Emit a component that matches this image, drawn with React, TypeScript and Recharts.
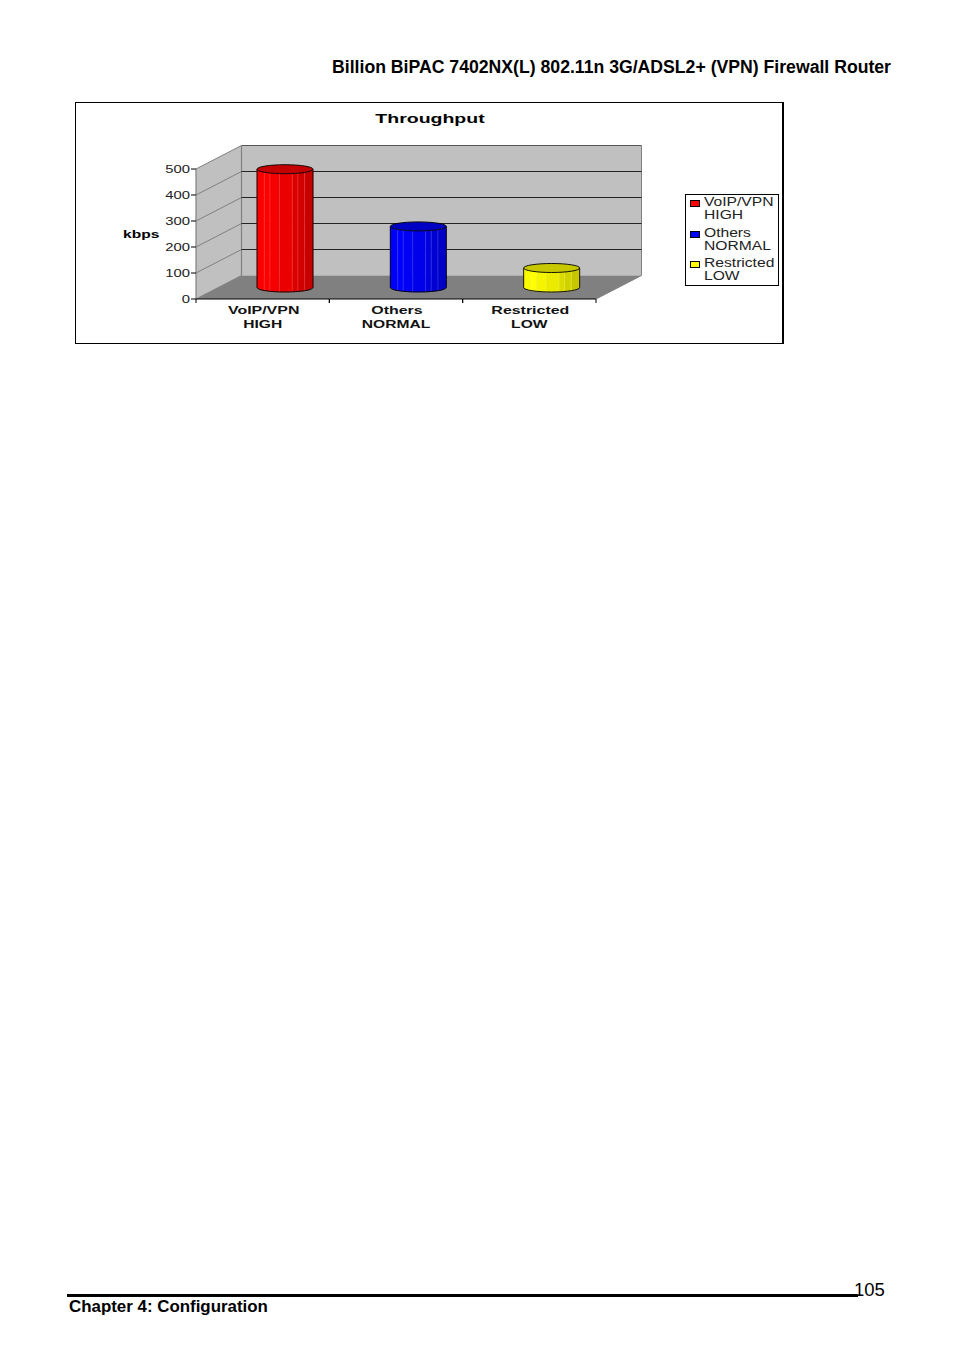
import React from 'react';
import { BarChart, Bar, XAxis, YAxis, CartesianGrid } from 'recharts';

const categories = ['VoIP/VPN', 'Others', 'Restricted'];
const priorities = ['HIGH', 'NORMAL', 'LOW'];
const throughput = [455, 235, 75];
const yTicks = [0, 100, 200, 300, 400, 500];
const bodyColors = ['#ff0000', '#0000ff', '#ffff00'];
const topColors = ['#c40000', '#0000c4', '#c8c800'];
const chartTitle = 'Throughput';
const axisTitle = 'kbps';
const headerText = 'Billion BiPAC 7402NX(L) 802.11n 3G/ADSL2+ (VPN) Firewall Router';
const footerText = 'Chapter 4: Configuration';
const pageNumber = '105';

const data = categories.map((name, i) => ({ name, priority: priorities[i], value: throughput[i] }));

const FONT = '"Liberation Sans", Arial, sans-serif';
const W = 707, H = 240;
const M = { left: 120, right: 187, top: 66, bottom: 44 };
const PX0 = M.left, PX1 = W - M.right, PY0 = M.top, PY1 = H - M.bottom;
const DX = 45.5, DY = -23.5;

const Walls = () => (
  <svg width={W} height={H} style={{ position: 'absolute', left: 0, top: 0 }}>
    <polygon points={`${PX0 + DX},${PY0 + DY} ${PX1 + DX},${PY0 + DY} ${PX1 + DX},${PY1 + DY} ${PX0 + DX},${PY1 + DY}`} fill="#c0c0c0" />
    <polygon points={`${PX0},${PY0} ${PX0 + DX},${PY0 + DY} ${PX0 + DX},${PY1 + DY} ${PX0},${PY1}`} fill="#c0c0c0" />
    <polygon points={`${PX0},${PY1} ${PX0 + DX},${PY1 + DY} ${PX1 + DX},${PY1 + DY} ${PX1},${PY1}`} fill="#808080" />
    <line x1={PX0 + DX} y1={PY0 + DY} x2={PX1 + DX} y2={PY0 + DY} stroke="#555" strokeWidth={1.2} />
    <line x1={PX0 + DX} y1={PY0 + DY} x2={PX0 + DX} y2={PY1 + DY} stroke="#808080" strokeWidth={1.2} />
    <line x1={PX1 + DX} y1={PY0 + DY} x2={PX1 + DX} y2={PY1 + DY} stroke="#808080" />
    <line x1={PX0} y1={PY0} x2={PX0} y2={PY1} stroke="#808080" strokeWidth={1.2} />
    <line x1={PX1} y1={PY1} x2={PX1 + DX} y2={PY1 + DY} stroke="#808080" />
    <text x={0} y={0} transform={`translate(47,${PY1 - 61}) scale(1.42,1)`} fontFamily={FONT} fontWeight="bold" fontSize={11} fill="#000">{axisTitle}</text>
    <text x={0} y={0} textAnchor="middle" transform={`translate(354,20) scale(1.5,1)`} fontFamily={FONT} fontWeight="bold" fontSize={13} fill="#000">{chartTitle}</text>
  </svg>
);

const gridLine = (p: any) => {
  const y = p.y1;
  return (
    <g key={p.key ?? y}>
      <line x1={PX0} y1={y} x2={PX0 + DX} y2={y + DY} stroke="#808080" />
      {y < PY1 - 1 && y > PY0 + 1 ? <line x1={PX0 + DX} y1={y + DY} x2={PX1 + DX} y2={y + DY} stroke="#111" strokeWidth={0.9} /> : null}
    </g>
  );
};

const XTick = (p: any) => {
  const i = p.index;
  const half = (PX1 - PX0) / categories.length / 2;
  return (
    <g>
      <line x1={p.x - half} y1={PY1} x2={p.x - half} y2={PY1 + 4} stroke="#000" />
      <line x1={p.x + half} y1={PY1} x2={p.x + half} y2={PY1 + 4} stroke="#000" />
      <text textAnchor="middle" transform={`translate(${p.x + 1},${PY1 + 15}) scale(1.45,1)`} fontFamily={FONT} fontWeight="bold" fontSize={11} fill="#111">{categories[i]}</text>
      <text textAnchor="middle" transform={`translate(${p.x},${PY1 + 29}) scale(1.42,1)`} fontFamily={FONT} fontWeight="bold" fontSize={11} fill="#111">{priorities[i]}</text>
    </g>
  );
};

const YTick = (p: any) => (
  <text textAnchor="end" transform={`translate(${PX0 - 6},${p.y + 4}) scale(1.35,1)`} fontFamily={FONT} fontSize={11} fill="#222">{p.payload.value}</text>
);

const facets: [number, number, number][] = [
  [0, 0.13, 0.98], [0.13, 0.23, 1], [0.23, 0.4, 0.96], [0.4, 0.63, 0.92], [0.63, 0.73, 0.86], [0.73, 0.85, 0.82], [0.85, 1, 0.78],
];

const shade = (hex: string, k: number) => {
  const n = parseInt(hex.slice(1), 16);
  const c = [(n >> 16) & 255, (n >> 8) & 255, n & 255].map((v) => Math.round(v * k));
  return `rgb(${c.join(',')})`;
};
const tint = (hex: string, k: number) => {
  const n = parseInt(hex.slice(1), 16);
  const c = [(n >> 16) & 255, (n >> 8) & 255, n & 255].map((v) => Math.round(v + (255 - v) * k));
  return `rgb(${c.join(',')})`;
};

const Cylinder = (p: any) => {
  const i = p.index;
  const rx = p.width / 2;
  const ry = 4.5;
  const cx = p.x + rx + 22;
  const top = p.y - 11.5;
  const bottom = p.y + p.height - 11.5;
  const arc = (x: number) => ry * Math.sqrt(Math.max(0, 1 - ((x - cx) / rx) ** 2));
  const color = bodyColors[i];
  return (
    <g>
      {facets.map(([a, b, k], j) => {
        const x0 = cx - rx + a * 2 * rx;
        const x1 = cx - rx + b * 2 * rx;
        const mid = (x0 + x1) / 2;
        return (
          <g key={j}>
            <path
              d={`M${x0},${top + arc(x0)} Q${mid},${top + 2 * arc(mid) - (arc(x0) + arc(x1)) / 2} ${x1},${top + arc(x1)} L${x1},${bottom + arc(x1)} Q${mid},${bottom + 2 * arc(mid) - (arc(x0) + arc(x1)) / 2} ${x0},${bottom + arc(x0)} Z`}
              fill={shade(color, k)}
              stroke={shade(color, k)}
              strokeWidth={0.3}
            />
            {j > 0 ? <line x1={x0} y1={top + arc(x0)} x2={x0} y2={bottom + arc(x0)} stroke={tint(color, 0.3)} strokeWidth={0.5} /> : null}
          </g>
        );
      })}
      <path d={`M${cx - rx},${top} L${cx - rx},${bottom} A${rx},${ry} 0 0 0 ${cx + rx},${bottom} L${cx + rx},${top}`} fill="none" stroke="#000" strokeWidth={0.9} />
      <ellipse cx={cx} cy={top} rx={rx} ry={ry} fill={topColors[i]} stroke="#000" strokeWidth={0.9} />
    </g>
  );
};

const LegendBox = () => (
  <div style={{ position: 'absolute', left: 609, top: 91, width: 92, height: 90, border: '1px solid #000', background: '#fff', fontFamily: FONT, fontSize: 12.5, color: '#222', lineHeight: '13px' }}>
    {categories.map((c, i) => (
      <div key={c} style={{ position: 'absolute', left: 0, top: 1 + [0, 31, 61][i] }}>
        <span style={{ position: 'absolute', left: 4, top: 4, width: 8, height: 5, background: bodyColors[i], border: '1px solid #000' }} />
        <div style={{ position: 'absolute', left: 18, top: 0, transform: 'scaleX(1.25)', transformOrigin: 'left top', whiteSpace: 'nowrap' }}>{c}</div>
        <div style={{ position: 'absolute', left: 18, top: 13, transform: 'scaleX(1.25)', transformOrigin: 'left top', whiteSpace: 'nowrap' }}>{priorities[i]}</div>
      </div>
    ))}
  </div>
);

export default function App() {
  return (
    <div style={{ position: 'absolute', left: 0, top: 0, width: 954, height: 1351, overflow: 'hidden', background: '#fff', fontFamily: FONT }}>
      <div style={{ position: 'absolute', right: 63, top: 57, fontSize: 17.65, fontWeight: 'bold', whiteSpace: 'nowrap', color: '#000', lineHeight: '20px' }}>{headerText}</div>
      <div style={{ position: 'absolute', left: 75, top: 102, width: W - 1, height: H, border: '1px solid #000', borderRightWidth: 2 }}>
        <Walls />
        <BarChart width={W} height={H} data={data} margin={{ left: 0, right: M.right, top: M.top, bottom: 0 }} barCategoryGap={0}>
          <CartesianGrid vertical={false} horizontal={gridLine} syncWithTicks />
          <XAxis dataKey="name" height={M.bottom} interval={0} tick={XTick} axisLine={{ stroke: '#000' }} tickLine={false} />
          <YAxis type="number" domain={[0, 500]} ticks={yTicks} width={M.left} tick={YTick} axisLine={false} tickLine={{ stroke: '#000' }} tickSize={5} />
          <Bar dataKey="value" barSize={56} shape={Cylinder} isAnimationActive={false} />
        </BarChart>
        <LegendBox />
      </div>
      <div style={{ position: 'absolute', left: 67, top: 1294, width: 791, height: 3, background: '#000' }} />
      <div style={{ position: 'absolute', left: 69, top: 1297, fontSize: 16.9, fontWeight: 'bold', whiteSpace: 'nowrap', lineHeight: '20px', color: '#000' }}>{footerText}</div>
      <div style={{ position: 'absolute', left: 854, top: 1279, fontSize: 18.5, whiteSpace: 'nowrap', lineHeight: '21px', color: '#000' }}>{pageNumber}</div>
    </div>
  );
}
